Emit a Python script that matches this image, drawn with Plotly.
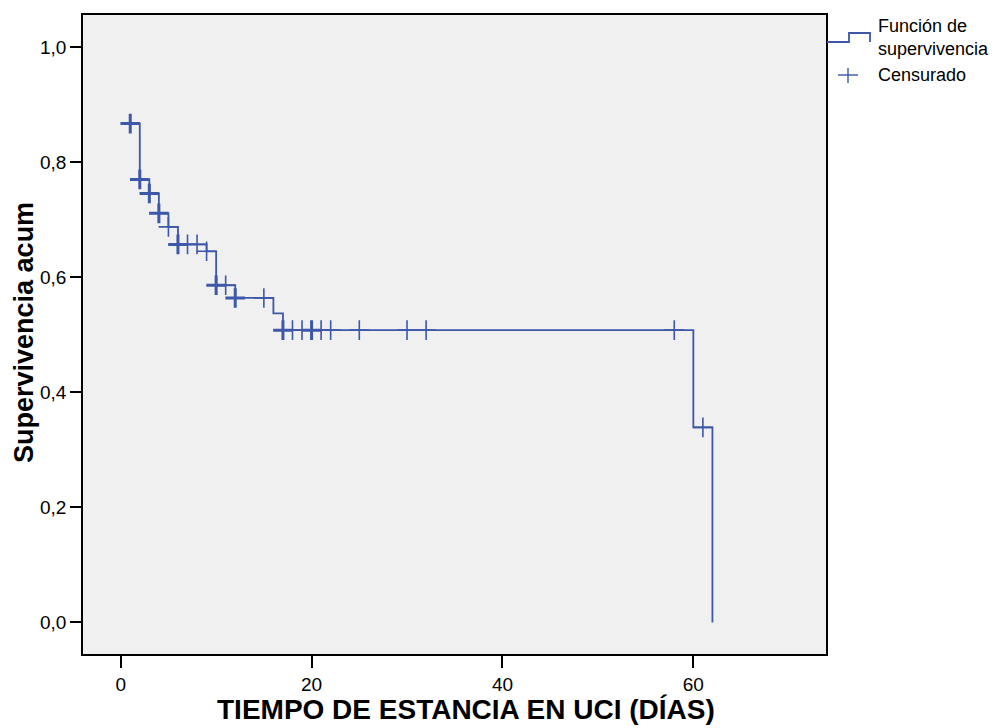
import plotly.graph_objects as go

# ---- data ----
step_times = [1, 2, 3, 4, 5, 6, 9, 10, 12, 16, 17, 60, 62]
step_surv = [0.867, 0.770, 0.7455, 0.711, 0.6875, 0.657, 0.645, 0.586, 0.564, 0.537, 0.508, 0.339, 0.0]

cens_times = [1, 2, 3, 4, 5, 6, 7, 8, 9, 10, 11, 12, 15, 17, 18, 19, 20, 21, 22, 25, 30, 32, 58, 61]
cens_surv = [0.867, 0.770, 0.7455, 0.711, 0.6875, 0.657, 0.657, 0.657, 0.645, 0.586, 0.586, 0.564, 0.564,
             0.508, 0.508, 0.508, 0.508, 0.508, 0.508, 0.508, 0.508, 0.508, 0.508, 0.339]
cens_count = [2, 2, 2, 2, 1, 2, 1, 1, 1, 2, 1, 2, 1, 2, 1, 1, 2, 1, 1, 1, 1, 1, 1, 1]

y_ticks = [0.0, 0.2, 0.4, 0.6, 0.8, 1.0]
y_ticktext = ["0,0", "0,2", "0,4", "0,6", "0,8", "1,0"]
x_ticks = [0, 20, 40, 60]

BLUE = "#3d57a9"
FONT = "Liberation Sans, Arial, sans-serif"

fig = go.Figure()
fig.add_trace(go.Scatter(
    x=step_times, y=step_surv, mode="lines", line_shape="hv",
    line=dict(color=BLUE, width=1.8), name="Función de supervivencia",
    showlegend=False, hoverinfo="x+y"))
fig.add_trace(go.Scatter(
    x=cens_times, y=cens_surv, mode="markers", name="Censurado",
    marker=dict(symbol="cross-thin", size=14, color=BLUE,
                line=dict(color=BLUE, width=[3 if c > 1 else 1.6 for c in cens_count])),
    showlegend=False, hoverinfo="x+y"))

# page body has an 8px margin: figure is laid out in screen pixels minus that offset
OFF = 8
W, H = 997 - OFF, 728 - OFF
L, R, T, B = 83 - OFF, 171, 15 - OFF, 74
pw, ph = W - L - R, H - T - B


def px(x):
    return (x - OFF - L) / pw


def py(y):
    return (H - B - (y - OFF)) / ph


legend_line = dict(color=BLUE, width=1.8)
fig.add_shape(type="path", xref="paper", yref="paper",
              path=f"M {px(827)} {py(42)} L {px(849)} {py(42)} L {px(849)} {py(33)} "
                   f"L {px(870)} {py(33)} L {px(870)} {py(42)}",
              line=legend_line)
fig.add_shape(type="line", xref="paper", yref="paper",
              x0=px(838), x1=px(858), y0=py(75), y1=py(75), line=dict(color=BLUE, width=1.4))
fig.add_shape(type="line", xref="paper", yref="paper",
              x0=px(848), x1=px(848), y0=py(68), y1=py(83), line=dict(color=BLUE, width=1.4))
fig.add_annotation(xref="paper", yref="paper", x=px(876), y=py(37.5), xanchor="left", yanchor="middle",
                   text="Función de<br>supervivencia", showarrow=False, align="left",
                   font=dict(family=FONT, size=18, color="black"))
fig.add_annotation(xref="paper", yref="paper", x=px(876), y=py(75), xanchor="left", yanchor="middle",
                   text="Censurado", showarrow=False, align="left",
                   font=dict(family=FONT, size=18, color="black"))

# axis titles
fig.add_annotation(xref="paper", yref="paper", x=px(466), y=py(727), xanchor="center", yanchor="bottom",
                   text="<b>TIEMPO DE ESTANCIA EN UCI (DÍAS)</b>", showarrow=False,
                   font=dict(family=FONT, size=28, color="black"))
fig.add_annotation(xref="paper", yref="paper", x=px(24), y=py(333), xanchor="center", yanchor="middle",
                   text="<b>Supervivencia acum</b>", showarrow=False, textangle=-90,
                   font=dict(family=FONT, size=27, color="black"))

fig.update_layout(
    width=W, height=H,
    margin=dict(l=L, r=R, t=T, b=B, pad=0),
    paper_bgcolor="white", plot_bgcolor="#f0f0f0",
    font=dict(family=FONT, color="black", size=19),
    showlegend=False,
)
fig.update_xaxes(
    range=[-3.95, 73.9], tickvals=x_ticks, ticks="outside", ticklen=12, tickwidth=2,
    tickcolor="black", showgrid=False, zeroline=False, showline=True, linecolor="black",
    linewidth=1.5, mirror=True, tickfont=dict(size=19), automargin=False)
fig.update_yaxes(
    range=[-0.0548, 1.0557], tickvals=y_ticks, ticktext=y_ticktext, ticks="outside", ticklen=11,
    tickwidth=2, tickcolor="black", showgrid=False, zeroline=False, showline=True,
    linecolor="black", linewidth=1.5, mirror=True, tickfont=dict(size=19), automargin=False)

fig.write_html("out.html")
